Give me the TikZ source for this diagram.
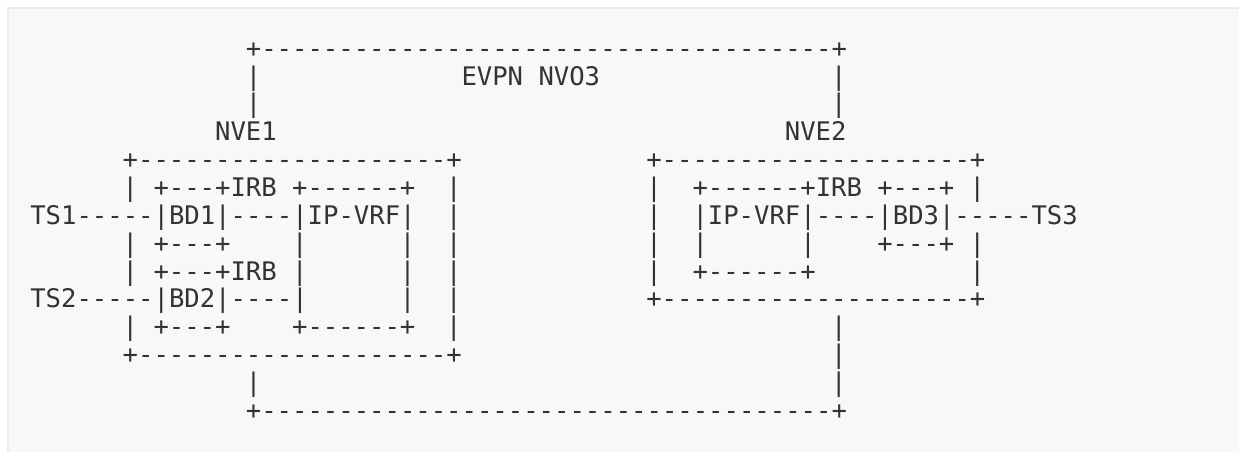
\documentclass[tikz,border=0pt]{standalone}
\usepackage{fontspec}
\setmonofont{DejaVu Sans Mono}
\definecolor{panel}{HTML}{F8F8F8}
\definecolor{panelborder}{HTML}{EBEBEB}
\definecolor{ink}{HTML}{333333}
\newcommand\pitchval{15.4}
\newcommand\rowval{27.85}
\newcommand\xoff{30.3}
\newcommand\yoff{57.2}
\newcommand\seg[3]{\node[asc, name=r#1c#2] at ({\xoff+#2*\pitchval},{\yoff+#1*\rowval}) {#3};}
\begin{document}
\begin{tikzpicture}[x=1pt,y=-1pt,
  asc/.style={anchor=base west, inner sep=0pt, outer sep=0pt, text=ink,
    font=\ttfamily\fontsize{25.6pt}{30pt}\selectfont}]
\useasboundingbox (0,0) rectangle (1239,452);
\clip (0,0) rectangle (1239,452);
\fill[white] (0,0) rectangle (1239,452);
\draw[fill=panel, draw=panelborder, line width=2pt] (8,8) rectangle (1260,470);
% row 0
\seg{0}{14}{+-------------------------------------+}
% row 1
\seg{1}{14}{|}\seg{1}{28}{EVPN}\seg{1}{33}{NVO3}\seg{1}{52}{|}
% row 2
\seg{2}{14}{|}\seg{2}{52}{|}
% row 3
\seg{3}{12}{NVE1}\seg{3}{49}{NVE2}
% row 4
\seg{4}{6}{+--------------------+}\seg{4}{40}{+--------------------+}
% row 5
\seg{5}{6}{|}\seg{5}{8}{+---+IRB}\seg{5}{17}{+------+}\seg{5}{27}{|}
\seg{5}{40}{|}\seg{5}{43}{+------+IRB}\seg{5}{55}{+---+}\seg{5}{61}{|}
% row 6
\seg{6}{0}{TS1-----|BD1|----|IP-VRF|}\seg{6}{27}{|}
\seg{6}{40}{|}\seg{6}{43}{|IP-VRF|----|BD3|-----TS3}
% row 7
\seg{7}{6}{|}\seg{7}{8}{+---+}\seg{7}{17}{|}\seg{7}{24}{|}\seg{7}{27}{|}
\seg{7}{40}{|}\seg{7}{43}{|}\seg{7}{50}{|}\seg{7}{55}{+---+}\seg{7}{61}{|}
% row 8
\seg{8}{6}{|}\seg{8}{8}{+---+IRB}\seg{8}{17}{|}\seg{8}{24}{|}\seg{8}{27}{|}
\seg{8}{40}{|}\seg{8}{43}{+------+}\seg{8}{61}{|}
% row 9
\seg{9}{0}{TS2-----|BD2|----|}\seg{9}{24}{|}\seg{9}{27}{|}
\seg{9}{40}{+--------------------+}
% row 10
\seg{10}{6}{|}\seg{10}{8}{+---+}\seg{10}{17}{+------+}\seg{10}{27}{|}
\seg{10}{52}{|}
% row 11
\seg{11}{6}{+--------------------+}\seg{11}{52}{|}
% row 12
\seg{12}{14}{|}\seg{12}{52}{|}
% row 13
\seg{13}{14}{+-------------------------------------+}
\end{tikzpicture}
\end{document}
